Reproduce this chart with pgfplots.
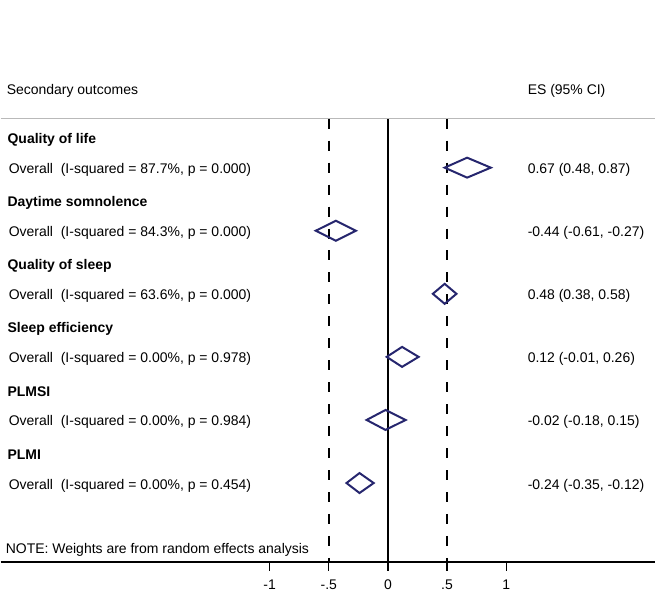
\documentclass[border=0pt]{standalone}
\usepackage{fontspec}
\setmainfont{Liberation Sans}
\usepackage{pgfplots}
\pgfplotsset{compat=1.18}
\definecolor{diam}{RGB}{38,38,110}
\newcommand\f{\fontsize{14bp}{17bp}\selectfont}
\begin{document}
\begin{tikzpicture}
\begin{axis}[
  scale only axis, width=656bp, height=563bp,
  xmin=-3.2743, xmax=2.2616, ymin=30, ymax=593,
  axis y line=none, axis x line*=bottom,
  x axis line style={-, line width=1.3bp},
  xtick={-1,-0.5,0,0.5,1}, xticklabels={-1,-.5,0,.5,1},
  xtick align=outside, major tick length=9bp,
  xtick style={line width=1.3bp, black},
  xticklabel style={font=\f, text height=10bp, text depth=0pt, yshift=-5bp},
  /pgf/number format/assume math mode=true,
  clip=false,
]
% reference lines
\addplot[gray!55, line width=1.2bp] coordinates {(-3.2743,474) (2.2616,474)};
\addplot[black, line width=1.5bp] coordinates {(0,30) (0,474)};
\addplot[black, line width=1.5bp, dash pattern=on 10bp off 12bp] coordinates {(-0.5,474) (-0.5,30)};
\addplot[black, line width=1.5bp, dash pattern=on 10bp off 12bp] coordinates {(0.5,474) (0.5,30)};
% diamonds (lower CI, ES, upper CI)
\addplot[diam, line width=2bp] coordinates {(0.48,425) (0.67,435) (0.87,425) (0.67,415)} -- cycle;
\addplot[diam, line width=2bp] coordinates {(-0.61,361.8) (-0.44,371.8) (-0.27,361.8) (-0.44,351.8)} -- cycle;
\addplot[diam, line width=2bp] coordinates {(0.38,298.6) (0.48,308.6) (0.58,298.6) (0.48,288.6)} -- cycle;
\addplot[diam, line width=2bp] coordinates {(-0.01,235.4) (0.12,245.4) (0.26,235.4) (0.12,225.4)} -- cycle;
\addplot[diam, line width=2bp] coordinates {(-0.18,172.2) (-0.02,182.2) (0.15,172.2) (-0.02,162.2)} -- cycle;
\addplot[diam, line width=2bp] coordinates {(-0.35,109) (-0.24,119) (-0.12,109) (-0.24,99)} -- cycle;
% texts
\begin{scope}[every node/.style={anchor=base west, inner sep=0pt, font=\f}]
\node at (axis cs:-3.224,498) {Secondary outcomes};
\node at (axis cs:1.181,498) {ES (95\% CI)};
\node at (axis cs:-3.217,449) {\bfseries Quality of life};
\node at (axis cs:-3.207,419) {Overall\hspace{0.556em}(I-squared = 87.7\%, p = 0.000)};
\node at (axis cs:1.181,419) {0.67 (0.48, 0.87)};
\node at (axis cs:-3.217,385.8) {\bfseries Daytime somnolence};
\node at (axis cs:-3.207,355.8) {Overall\hspace{0.556em}(I-squared = 84.3\%, p = 0.000)};
\node at (axis cs:1.181,355.8) {-0.44 (-0.61, -0.27)};
\node at (axis cs:-3.217,322.6) {\bfseries Quality of sleep};
\node at (axis cs:-3.207,292.6) {Overall\hspace{0.556em}(I-squared = 63.6\%, p = 0.000)};
\node at (axis cs:1.181,292.6) {0.48 (0.38, 0.58)};
\node at (axis cs:-3.217,259.4) {\bfseries Sleep efficiency};
\node at (axis cs:-3.207,229.4) {Overall\hspace{0.556em}(I-squared = 0.00\%, p = 0.978)};
\node at (axis cs:1.181,229.4) {0.12 (-0.01, 0.26)};
\node at (axis cs:-3.217,196.2) {\bfseries PLMSI};
\node at (axis cs:-3.207,166.2) {Overall\hspace{0.556em}(I-squared = 0.00\%, p = 0.984)};
\node at (axis cs:1.181,166.2) {-0.02 (-0.18, 0.15)};
\node at (axis cs:-3.217,133) {\bfseries PLMI};
\node at (axis cs:-3.207,103) {Overall\hspace{0.556em}(I-squared = 0.00\%, p = 0.454)};
\node at (axis cs:1.181,103) {-0.24 (-0.35, -0.12)};
\node at (axis cs:-3.232,38) {NOTE: Weights are from random effects analysis};
\end{scope}
\path (axis cs:-3.2743,0) rectangle (axis cs:2.2616,593);
\end{axis}
\end{tikzpicture}
\end{document}
